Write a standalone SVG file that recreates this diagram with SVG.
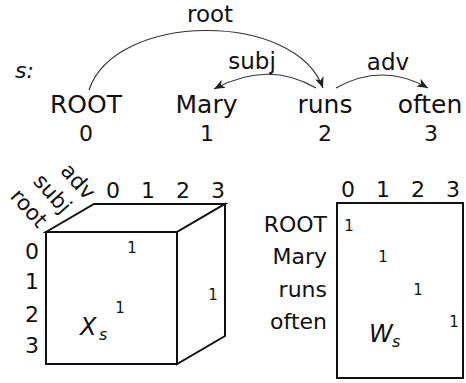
<svg xmlns="http://www.w3.org/2000/svg" width="466" height="383" viewBox="0 0 466 383">
<style>
text{font-family:"DejaVu Sans","Liberation Sans",sans-serif;fill:#111}
.w{font-size:25px;text-anchor:middle}
.n{font-size:22px;text-anchor:middle}
.l{font-size:23px;text-anchor:middle}
.d{font-size:21.5px;text-anchor:end}
.r{font-size:22px;text-anchor:end}
.o{font-size:15px;text-anchor:middle}
.i{font-style:italic}
.arc{fill:none;stroke:#333;stroke-width:1.2;marker-end:url(#ah)}
.box{fill:#fff;stroke:#111;stroke-width:2;stroke-linejoin:miter}
</style>
<defs>
<marker id="ah" markerUnits="userSpaceOnUse" markerWidth="12" markerHeight="10" refX="11" refY="4.5" orient="auto">
<path d="M0,0 L11,4.5 L0,9 L3,4.5 z" fill="#222"/>
</marker>
</defs>
<g id="sentence">
<text class="i" x="15" y="78" style="font-size:22px">s:</text>
<g id="w0"><text class="w" x="86" y="113">ROOT</text><text class="n" x="86" y="141">0</text></g>
<g id="w1"><text class="w" x="206.5" y="113">Mary</text><text class="n" x="207" y="141">1</text></g>
<g id="w2"><text class="w" x="325" y="113">runs</text><text class="n" x="325" y="141">2</text></g>
<g id="w3"><text class="w" x="430" y="113">often</text><text class="n" x="431" y="141">3</text></g>
</g>
<g id="connectors">
<path class="arc" d="M89,90 C115,12 295,10 323,88"/>
<path class="arc" d="M316,88 Q268,60 214,89"/>
<path class="arc" d="M336,88 Q382,62 428,88"/>
<text class="l" x="210" y="22">root</text>
<text class="l" x="252" y="69">subj</text>
<text class="l" x="388" y="70">adv</text>
</g>
<g id="cube">
<rect class="box" x="46" y="232" width="131" height="132"/>
<polygon class="box" points="46,232 94,204 225,204 177,232"/>
<polygon class="box" points="177,232 225,204 225,336 177,364"/>
<text class="n" x="113" y="198">0</text>
<text class="n" x="148" y="198">1</text>
<text class="n" x="183" y="198">2</text>
<text class="n" x="218" y="198">3</text>
<text class="n" x="32" y="259">0</text>
<text class="n" x="32" y="289">1</text>
<text class="n" x="32" y="322">2</text>
<text class="n" x="32" y="353">3</text>
<text class="d" transform="translate(38,229) rotate(48)">root</text>
<text class="d" transform="translate(62,215) rotate(48)">subj</text>
<text class="d" transform="translate(86,201) rotate(48)">adv</text>
<text class="o" x="132" y="253">1</text>
<text class="o" x="120" y="313">1</text>
<text class="o" x="213" y="300">1</text>
<text class="i" x="80" y="335" style="font-size:24px">X</text>
<text class="i" x="99" y="340" style="font-size:16px">s</text>
</g>
<g id="matrix">
<rect class="box" x="337" y="203" width="126" height="175"/>
<text class="n" x="348" y="197">0</text>
<text class="n" x="383" y="197">1</text>
<text class="n" x="418" y="197">2</text>
<text class="n" x="453" y="197">3</text>
<text class="r" x="327" y="232">ROOT</text>
<text class="r" x="327" y="264">Mary</text>
<text class="r" x="327" y="297">runs</text>
<text class="r" x="327" y="329">often</text>
<text class="o" x="349" y="231">1</text>
<text class="o" x="383" y="262">1</text>
<text class="o" x="418" y="295">1</text>
<text class="o" x="454" y="327">1</text>
<text class="i" x="369" y="342" style="font-size:24px">W</text>
<text class="i" x="392" y="347" style="font-size:16px">s</text>
</g>
</svg>
